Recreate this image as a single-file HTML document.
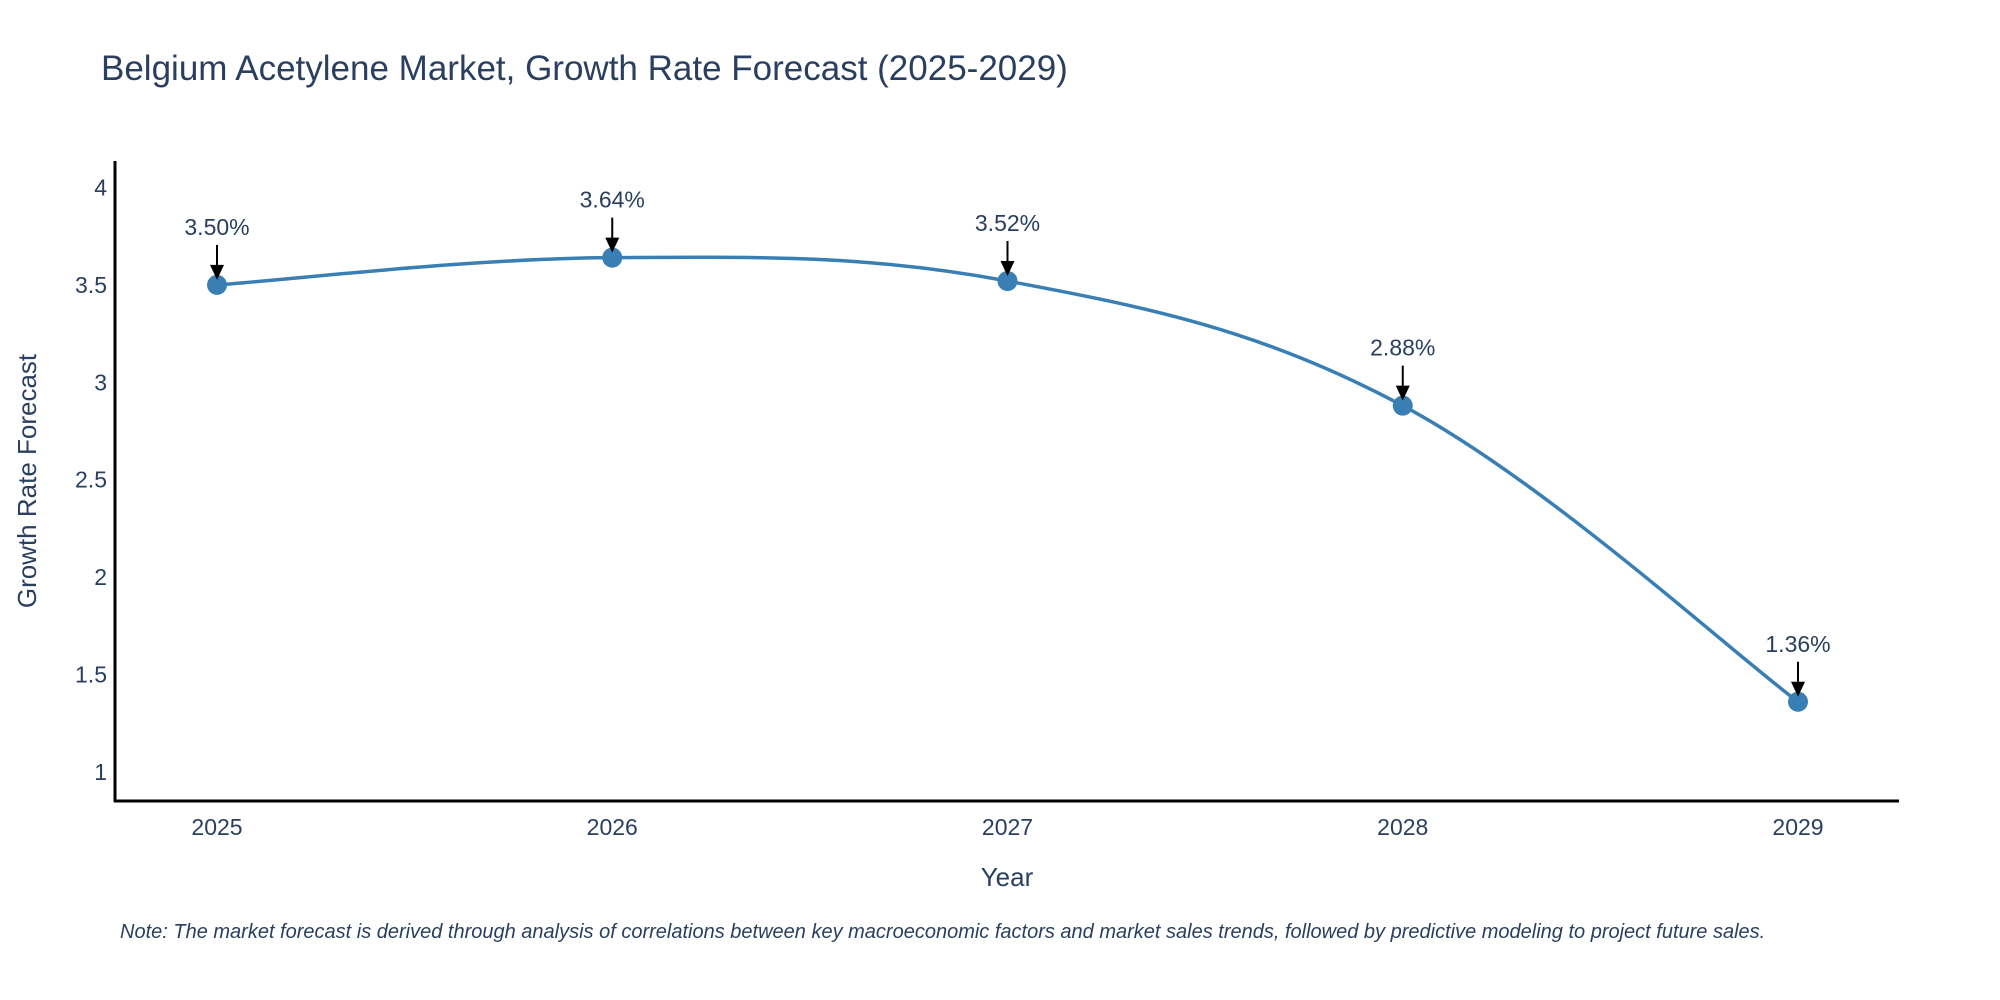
<!DOCTYPE html>
<html><head><meta charset="utf-8"><style>
html,body{margin:0;padding:0;background:#fff;}
svg{display:block;font-family:"Liberation Sans",sans-serif;}
</style></head><body>
<svg id="chart" width="2000" height="1000" viewBox="0 0 2000 1000">
<text x="101" y="80" font-size="35" fill="#2a3f5f">Belgium Acetylene Market, Growth Rate Forecast (2025-2029)</text>
<g id="yticks"></g><g id="xticks"></g>
<line x1="115" y1="161" x2="115" y2="802" stroke="#000" stroke-width="3"/>
<line x1="114" y1="801" x2="1899" y2="801" stroke="#000" stroke-width="3"/>
<text transform="translate(36,481) rotate(-90)" text-anchor="middle" font-size="26" fill="#2a3f5f">Growth Rate Forecast</text>
<text x="1007" y="886" text-anchor="middle" font-size="26" fill="#2a3f5f">Year</text>
<g id="plot"></g>
<text x="120" y="938" font-size="20" font-style="italic" fill="#2a3f5f">Note: The market forecast is derived through analysis of correlations between key macroeconomic factors and market sales trends, followed by predictive modeling to project future sales.</text>
</svg>
<script>
const years=[2025,2026,2027,2028,2029];
const rates=[3.50,3.64,3.52,2.88,1.36];
const labels=["3.50%","3.64%","3.52%","2.88%","1.36%"];
const yTicks=[1,1.5,2,2.5,3,3.5,4];
const NS="http://www.w3.org/2000/svg";
function xs(v){return 217+(v-2025)*395.25;}
function ys(v){return 187.5+(4-v)*194.8;}
function mk(tag,attrs,parent){const e=document.createElementNS(NS,tag);for(const k in attrs)e.setAttribute(k,attrs[k]);parent.appendChild(e);return e;}
const yg=document.getElementById('yticks'),xg=document.getElementById('xticks'),pg=document.getElementById('plot');
yTicks.forEach(t=>{const e=mk('text',{x:107,y:ys(t)+8,'text-anchor':'end','font-size':23,fill:'#2a3f5f'},yg);e.textContent=String(t);

});
years.forEach(t=>{const e=mk('text',{x:xs(t),y:835,'text-anchor':'middle','font-size':23,fill:'#2a3f5f'},xg);e.textContent=String(t);

});
const pts=years.map((y,i)=>[xs(y),ys(rates[i])]);
let d='M'+pts[0][0]+','+pts[0][1];const s=0.18;
for(let i=0;i<pts.length-1;i++){const p0=pts[Math.max(0,i-1)],p1=pts[i],p2=pts[i+1],p3=pts[Math.min(pts.length-1,i+2)];
const c1=[p1[0]+(p2[0]-p0[0])*s,p1[1]+(p2[1]-p0[1])*s],c2=[p2[0]-(p3[0]-p1[0])*s,p2[1]-(p3[1]-p1[1])*s];
d+=` C${c1[0]},${c1[1]} ${c2[0]},${c2[1]} ${p2[0]},${p2[1]}`;}
const line=mk('path',{d:d,fill:'none',stroke:'#3a7fb4','stroke-width':3.5},pg);


pts.forEach((p,i)=>{const c=mk('circle',{cx:p[0],cy:p[1],r:10,fill:'#3a7fb4'},pg);


const a=mk('line',{x1:p[0],y1:p[1]-40,x2:p[0],y2:p[1]-18,stroke:'#000','stroke-width':2},pg);


const h=mk('polygon',{points:`${p[0]-7},${p[1]-20} ${p[0]+7},${p[1]-20} ${p[0]},${p[1]-5}`,fill:'#000'},pg);


const t=mk('text',{x:p[0],y:p[1]-50,'text-anchor':'middle','font-size':23,fill:'#2a3f5f'},pg);t.textContent=labels[i];

});
</script>
</body></html>
